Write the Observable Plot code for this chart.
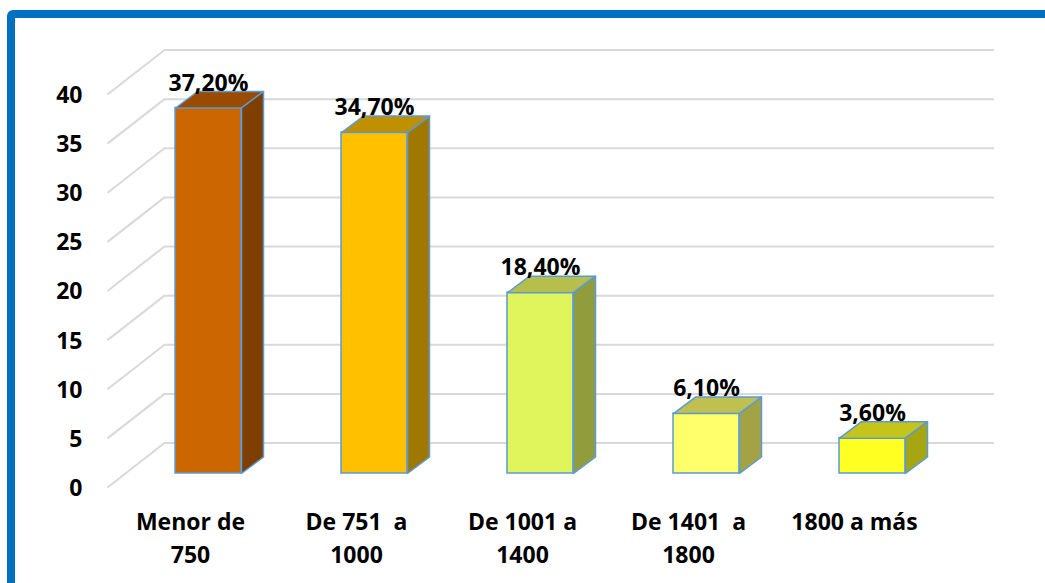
<!DOCTYPE html>
<html><head><meta charset="utf-8">
<script src="https://cdn.jsdelivr.net/npm/d3@7"></script>
<script src="https://cdn.jsdelivr.net/npm/@observablehq/plot@0.6"></script>
<style>
html,body{margin:0;padding:0;background:#fff;overflow:hidden;}
#wrap{position:relative;width:1045px;height:583px;}
#frame{position:absolute;left:7px;top:10px;width:1200px;height:800px;border:8px solid #0070C0;border-radius:6px;box-sizing:border-box;pointer-events:none;}
svg text{white-space:pre;}
</style></head><body><div id="wrap"><div id="chart"></div><div id="frame"></div></div>
<script>
// ---- data ----
const categories = ["Menor de\n750", "De 751  a\n1000", "De 1001 a\n1400", "De 1401  a\n1800", "1800 a más"];
const values = [37.2, 34.7, 18.4, 6.1, 3.6];
const yTicks = [0, 5, 10, 15, 20, 25, 30, 35, 40];

// ---- styles ----
const frontColors = ["#CC6600", "#FFC000", "#DFF55B", "#FFFF6B", "#FFFF22"];
const topColors   = ["#994C00", "#BF9000", "#B6BF4C", "#C0C050", "#C4C41A"];
const sideColors  = ["#7F3F00", "#A07800", "#919D3C", "#A3A345", "#A6A615"];
const EDGE = "#5B9BD5";
const GRID = "#D9D9D9";
const FONT = "Open Sans";
const FS = 23;

const W = 1045, H = 583;
const mL = 107, mR = 108, mT = 94, mB = 96;
const xUnit = (W - mL - mR) / 5;      // px per category
const yUnit = (H - mT - mB) / 40;     // px per value unit

// depth offsets (pixels) converted to data units
const wallDX = 57 / xUnit, wallDY = 44.5 / yUnit;
const barDX = 18 / xUnit, barDY = 14 / yUnit;
const depDX = 22 / xUnit, depDY = 16.5 / yUnit;
const hw = 33 / xUnit;

const bars = values.map((v, i) => ({i, v}));
const faces = [];
bars.forEach(({i, v}) => {
  const L = i - hw + barDX, R = i + hw + barDX, B = barDY, T = v + barDY;
  const top = [[L, T], [R, T], [R + depDX, T + depDY], [L + depDX, T + depDY], [L, T]];
  const side = [[R, B], [R + depDX, B + depDY], [R + depDX, T + depDY], [R, T], [R, B]];
  top.forEach(([x, y]) => faces.push({key: "t" + i, x, y, fill: topColors[i]}));
  side.forEach(([x, y]) => faces.push({key: "s" + i, x, y, fill: sideColors[i]}));
});

const chart = Plot.plot({
  width: W, height: H,
  marginLeft: mL, marginRight: mR, marginTop: mT, marginBottom: mB,
  x: {type: "linear", domain: [-0.5, 4.5], axis: null},
  y: {type: "linear", domain: [0, 40], axis: null},
  color: {type: "identity"},
  style: {fontFamily: FONT, background: "white", overflow: "visible"},
  marks: [
    // back wall gridlines
    Plot.ruleY(yTicks, {y: d => d + wallDY, x1: () => -0.5 + wallDX, x2: () => 4.5 + wallDX, stroke: GRID, strokeWidth: 2}),
    // side wall diagonals
    Plot.link(yTicks, {x1: () => -0.5, y1: d => d, x2: () => -0.5 + wallDX, y2: d => d + wallDY, stroke: GRID, strokeWidth: 2}),
    // bar front faces
    Plot.rect(bars, {x1: d => d.i - hw + barDX, x2: d => d.i + hw + barDX, y1: () => barDY, y2: d => d.v + barDY,
      fill: d => frontColors[d.i], stroke: EDGE, strokeWidth: 1.5}),
    // bar top and side faces
    Plot.line(faces, {x: "x", y: "y", z: "key", fill: "fill", stroke: EDGE, strokeWidth: 1.5, strokeLinejoin: "round"}),
    // value labels
    Plot.text(bars, {x: d => d.i, y: d => d.v, text: d => d.v.toFixed(2).replace(".", ",") + "%",
      dx: 18, dy: -14 - 16.5 - 1, lineAnchor: "bottom", fontSize: FS, fontWeight: "bold", fill: "#000"}),
    // y labels
    Plot.text(yTicks, {x: () => -0.5, y: d => d, text: d => String(d), textAnchor: "end", dx: -25, dy: 1,
      fontSize: FS, fontWeight: "bold", fill: "#000"}),
    // category labels
    Plot.text(categories, {x: (d, i) => i, y: () => 0, text: d => d, lineAnchor: "top", dy: 19, lineHeight: 1.43,
      fontSize: FS, fontWeight: "bold", fill: "#000"})
  ]
});
document.getElementById("chart").appendChild(chart);
</script></body></html>
